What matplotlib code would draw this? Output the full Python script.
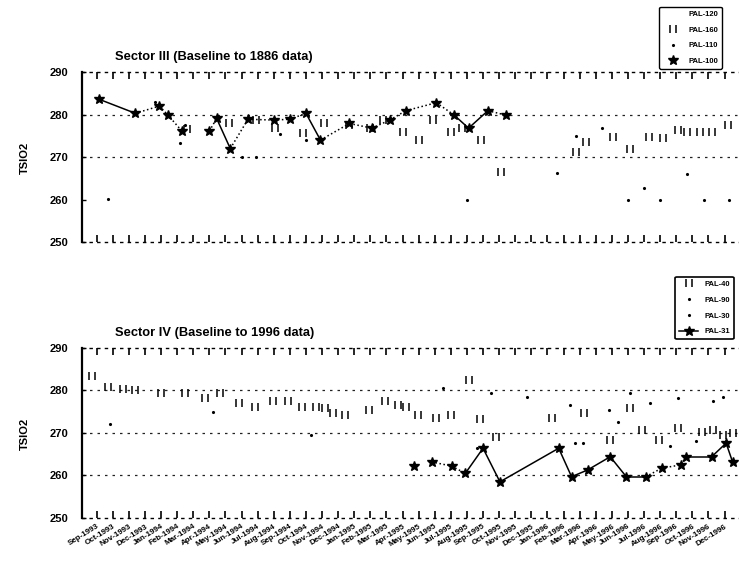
import matplotlib
matplotlib.use("Agg")
import matplotlib.pyplot as plt
from matplotlib.path import Path
from matplotlib.lines import Line2D

plt.rcParams['font.family'] = ['Liberation Sans', 'DejaVu Sans']
plt.rcParams['font.weight'] = 'bold'

# month labels (Sep 1993 - Dec 1996)
month_labels = [
    'Sep-1993', 'Oct-1993', 'Nov-1993', 'Dec-1993',
    'Jan-1994', 'Feb-1994', 'Mar-1994', 'Apr-1994', 'May-1994', 'Jun-1994',
    'Jul-1994', 'Aug-1994', 'Sep-1994', 'Oct-1994', 'Nov-1994', 'Dec-1994',
    'Jan-1995', 'Feb-1995', 'Mar-1995', 'Apr-1995', 'May-1995', 'Jun-1995',
    'Jul-1995', 'Aug-1995', 'Sep-1995', 'Oct-1995', 'Nov-1995', 'Dec-1995',
    'Jan-1996', 'Feb-1996', 'Mar-1996', 'Apr-1996', 'May-1996', 'Jun-1996',
    'Jul-1996', 'Aug-1996', 'Sep-1996', 'Oct-1996', 'Nov-1996', 'Dec-1996',
]

# ---- Sector III ----
s3_pal100_x = [0.15, 2.4, 3.9, 4.4, 5.3, 7.0, 7.45, 8.3, 9.4, 11.0, 12.0, 13.0, 13.9,
               15.7, 17.1, 18.2, 19.2, 21.1, 22.2, 23.1, 24.3, 25.4]
s3_pal100_y = [283.6, 280.3, 282.0, 280.0, 276.1, 276.1, 279.1, 272.0, 278.9, 278.7, 278.9,
               280.3, 274.0, 277.9, 276.8, 278.7, 280.9, 282.8, 279.9, 276.8, 280.9, 279.9]
s3_solid = [(0, 1), (6, 7), (11, 12), (18, 19), (19, 20)]
s3_gaps = [(4, 5)]

s3_pal160_x = [5.6, 8.2, 9.9, 11.1, 12.8, 14.1, 15.7, 17.0, 17.8, 19.0, 20.0, 20.9, 22.0,
               22.7, 23.9, 25.1, 29.8, 30.4, 32.1, 33.1, 34.3, 35.2, 36.1, 36.7, 37.5,
               38.2, 39.2]
s3_pal160_y = [276.5, 278.0, 278.7, 276.8, 275.6, 277.9, 277.5, 276.8, 278.7, 276.0, 274.0,
               278.7, 276.0, 276.8, 274.0, 266.5, 271.3, 273.6, 274.8, 272.0, 274.8, 274.4,
               276.4, 276.0, 276.0, 276.0, 277.5]

s3_pal110_x = [0.7, 3.6, 5.2, 5.5, 9.0, 9.9, 11.4, 13.0, 23.0, 28.6, 29.8, 31.4, 33.0,
               34.0, 35.0, 36.7, 37.7, 39.3]
s3_pal110_y = [260.1, 283.0, 273.3, 277.5, 270.0, 270.0, 275.5, 274.0, 259.9, 266.2, 275.0,
               276.8, 260.0, 262.7, 260.0, 266.0, 260.0, 260.0]

# ---- Sector IV ----
s4_pal31_x = [19.7, 20.8, 22.05, 22.9, 24.0, 25.05, 28.7, 29.5, 30.5, 31.9, 32.9, 34.1,
              35.1, 36.3, 36.6, 38.2, 39.1, 39.5]
s4_pal31_y = [262.2, 263.2, 262.2, 260.5, 266.4, 258.5, 266.4, 259.7, 261.3, 264.4, 259.7,
              259.7, 261.7, 262.5, 264.4, 264.4, 267.6, 263.2]
s4_solid = [(3, 4), (4, 5), (5, 6), (6, 7), (7, 8), (8, 9), (9, 10), (10, 11),
            (14, 15), (15, 16), (16, 17)]
s4_gaps = [(0, 1)]

s4_pal40_x = [-0.3, 0.7, 1.65, 2.4, 4.0, 5.5, 6.75, 7.65, 8.85, 9.85, 10.95, 11.9, 12.75,
              13.6, 14.2, 14.7, 15.4, 16.9, 17.9, 18.7, 19.2, 19.95, 21.05, 22.0, 23.1,
              23.8, 24.8, 28.3, 30.3, 31.9, 33.15, 33.9, 34.95, 36.1, 37.6, 38.3, 38.9, 39.5]
s4_pal40_y = [283.4, 280.9, 280.3, 280.1, 279.3, 279.4, 278.2, 279.3, 277.0, 276.2, 277.4,
              277.4, 276.2, 276.2, 275.8, 274.8, 274.2, 275.4, 277.4, 276.6, 276.2, 274.2,
              273.4, 274.2, 282.5, 273.2, 269.1, 273.4, 274.6, 268.4, 275.8, 270.7, 268.4,
              271.1, 270.3, 270.7, 269.5, 269.9]

s4_pal90_x = [0.8, 7.2, 23.6, 26.7, 29.4, 31.8, 33.1, 34.4, 36.1, 38.3, 38.9]
s4_pal90_y = [272.0, 275.0, 266.5, 278.5, 276.6, 275.4, 279.4, 277.0, 278.2, 277.4, 278.5]

s4_pal30_x = [13.3, 21.5, 24.5, 29.7, 30.2, 32.4, 35.6, 37.2]
s4_pal30_y = [269.5, 280.5, 279.5, 267.6, 267.6, 272.6, 267.0, 268.0]

pair_marker = Path([(-0.7, -1), (-0.7, 1), (0.7, -1), (0.7, 1)],
                   [Path.MOVETO, Path.LINETO, Path.MOVETO, Path.LINETO])


def draw_stars(ax, xs, ys, solid, gaps):
    for i in range(len(xs) - 1):
        if (i, i + 1) in gaps:
            continue
        ls = '-' if (i, i + 1) in solid else ':'
        ax.plot(xs[i:i + 2], ys[i:i + 2], color='black', lw=1.1, ls=ls)
    ax.plot(xs, ys, ls='none', marker='*', ms=7.5, color='black')


def style_axes(ax, gridlines, title, show_labels):
    ax.set_xlim(-0.91, 39.9)
    ax.set_ylim(250, 290)
    for y in gridlines:
        ax.axhline(y, color='#222222', lw=0.9, ls=(0, (2, 4)), zorder=0)
    ax.spines['right'].set_visible(False)
    ax.spines['left'].set_linewidth(1.6)
    for s in ['top', 'bottom']:
        ax.spines[s].set_linestyle((0, (1.5, 4)))
        ax.spines[s].set_linewidth(1.0)
    ax.set_xticks(range(len(month_labels)))
    ax.tick_params(axis='x', direction='in', top=True, bottom=True, length=5, width=1.2)
    ax.set_yticks([250, 260, 270, 280, 290])
    ax.tick_params(axis='y', direction='in', length=3, width=1, labelsize=8, pad=10)
    if show_labels:
        ax.set_xticklabels(month_labels, rotation=32, ha='right', rotation_mode='anchor',
                           fontsize=5.8)
    else:
        ax.set_xticklabels([])
    ax.text(0.05, 1.088, title, transform=ax.transAxes, fontsize=9.3,
            fontweight='bold', va='center', ha='left')


fig = plt.figure(figsize=(7.39, 5.63), dpi=100)
ax1 = fig.add_axes([0.111, 0.570, 0.889, 0.302])
ax2 = fig.add_axes([0.111, 0.080, 0.889, 0.302])

# Sector III
style_axes(ax1, [270, 280], 'Sector III (Baseline to 1886 data)', False)
ax1.plot(s3_pal160_x, s3_pal160_y, ls='none', marker=pair_marker, ms=6, mew=1.1, color='black')
ax1.plot(s3_pal110_x, s3_pal110_y, ls='none', marker='.', ms=2.5, color='black')
draw_stars(ax1, s3_pal100_x, s3_pal100_y, s3_solid, s3_gaps)

# Sector IV
style_axes(ax2, [260, 270, 280], 'Sector IV (Baseline to 1996 data)', True)
ax2.plot(s4_pal40_x, s4_pal40_y, ls='none', marker=pair_marker, ms=6, mew=1.1, color='black')
ax2.plot(s4_pal90_x, s4_pal90_y, ls='none', marker='.', ms=2.5, color='black')
ax2.plot(s4_pal30_x, s4_pal30_y, ls='none', marker='.', ms=2.5, color='black')
draw_stars(ax2, s4_pal31_x, s4_pal31_y, s4_solid, s4_gaps)

fig.text(0.027, 0.72, 'TSIO2', rotation=90, fontsize=8, fontweight='bold', va='center')
fig.text(0.027, 0.23, 'TSIO2', rotation=90, fontsize=8, fontweight='bold', va='center')

# legends
h_top = [
    Line2D([], [], ls='none'),
    Line2D([], [], ls='none', marker=pair_marker, ms=6, mew=1.1, color='black'),
    Line2D([], [], ls='none', marker='.', ms=2.5, color='black'),
    Line2D([], [], ls='none', marker='*', ms=7.5, color='black'),
]
leg1 = fig.legend(h_top, ['PAL-120', 'PAL-160', 'PAL-110', 'PAL-100'],
                  loc='upper right', bbox_to_anchor=(0.982, 0.995), fontsize=5.5,
                  labelspacing=1.1, handlelength=2.5, fancybox=True, framealpha=1,
                  edgecolor='black', borderpad=0.5)
leg1.get_frame().set_linewidth(1.0)

h_bot = [
    Line2D([], [], ls='none', marker=pair_marker, ms=6, mew=1.1, color='black'),
    Line2D([], [], ls='none', marker='.', ms=2.5, color='black'),
    Line2D([], [], ls='none', marker='.', ms=2.5, color='black'),
    Line2D([], [], ls='-', lw=1.1, marker='*', ms=7.5, color='black'),
]
leg2 = fig.legend(h_bot, ['PAL-40', 'PAL-90', 'PAL-30', 'PAL-31'],
                  loc='upper right', bbox_to_anchor=(0.998, 0.515), fontsize=5.5,
                  labelspacing=1.1, handlelength=2.5, fancybox=True, framealpha=1,
                  edgecolor='black', borderpad=0.5)
leg2.get_frame().set_linewidth(1.2)

fig.savefig('out.png', dpi=100)
